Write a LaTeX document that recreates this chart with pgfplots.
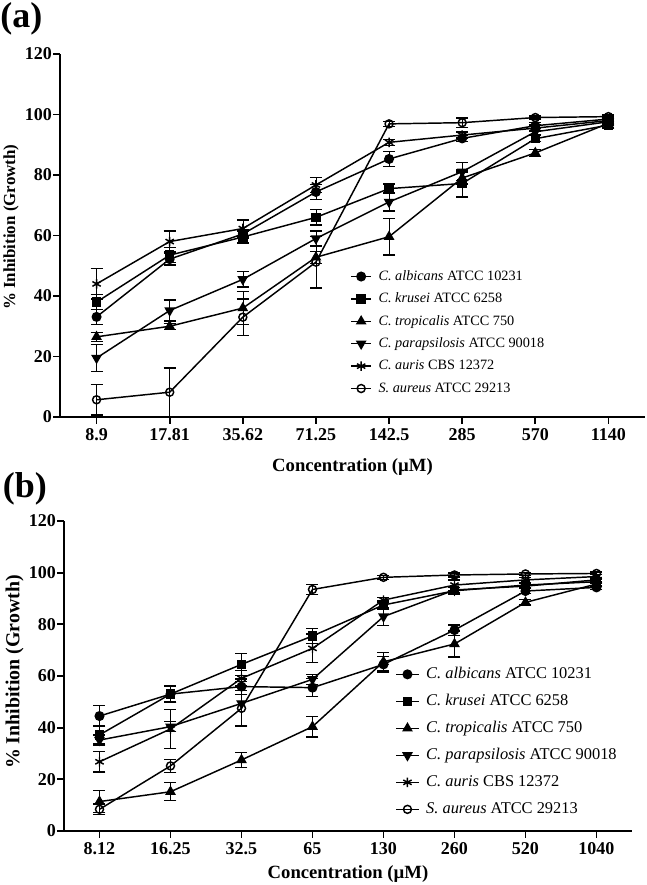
\documentclass[border=0pt]{standalone}
\usepackage{pgfplots}
\pgfplotsset{compat=1.18}
\usepackage{pgfplotstable}
\usepackage{fontspec}
\setmainfont{Liberation Serif}

% x = category index; columns: mean and error for each strain
\pgfplotstableread{
x  a     ea   b     eb   c     ec   d     ed   e     ee   f     ef
0  33.1  2.5  38.0  2.5  26.5  1.5  19.5  4.5  44.0  5.0  5.7   5.0
1  52.2  2.0  53.5  2.5  30.0  1.0  35.2  3.5  58.0  3.5  8.2   8.0
2  60.5  1.5  59.5  2.0  36.0  5.5  45.5  2.5  62.3  2.8  33.0  6.0
3  74.4  2.5  66.0  2.5  52.8  2.0  59.0  2.5  76.7  2.5  51.2  8.5
4  85.3  2.5  75.5  1.5  59.6  6.0  71.1  3.0  90.8  1.0  96.9  0.8
5  92.1  1.0  77.2  4.5  79.0  2.0  81.1  3.0  93.2  1.0  97.3  1.5
6  96.3  1.0  92.0  1.0  87.3  1.2  94.3  1.0  95.5  1.0  99.0  0.5
7  98.5  0.8  96.5  1.0  97.1  0.8  97.6  0.8  98.0  0.8  99.3  0.5
}\tabA

\pgfplotstableread{
x  a     ea   b     eb   c     ec   d     ed   e     ee   f     ef
0  44.5  4.0  37.2  3.5  11.4  4.3  35.2  2.0  26.8  4.0  8.4   2.0
1  53.0  3.0  53.0  3.2  15.2  3.5  40.4  2.0  39.5  7.5  25.2  2.5
2  55.9  3.0  64.5  4.2  27.5  3.0  49.4  8.5  59.1  3.0  47.5  7.0
3  55.5  3.5  75.5  3.0  40.4  4.0  58.7  2.0  70.7  5.5  93.5  2.0
4  64.5  3.0  87.5  1.5  65.5  3.5  83.0  3.5  89.4  1.0  98.2  0.8
5  77.8  2.0  93.0  1.2  72.4  5.0  93.3  1.0  95.2  2.0  99.1  0.8
6  92.9  1.0  95.2  1.0  88.5  1.0  94.8  1.0  97.2  1.0  99.5  0.5
7  94.3  0.8  96.5  0.8  95.6  0.8  97.2  0.8  98.5  0.8  99.7  0.5
}\tabB

\pgfplotsset{
  panel/.style={
    scale only axis, clip=false,
    axis x line=bottom, axis y line=left,
    axis line style={-, line width=1.6pt},
    xmin=-0.5, xmax=7.5, ymin=0, ymax=120,
    xtick={0,...,7}, ytick={0,20,...,120},
    tick align=outside, major tick length=5pt,
    tick style={line width=1.4pt, black},
    ticklabel style={font=\bfseries\fontsize{13.5}{15}\selectfont},
    yticklabel style={xshift=2.5pt},
    /pgf/number format/assume math mode=true,
    xlabel style={font=\bfseries\fontsize{14}{16}\selectfont},
    xlabel={Concentration (µM)},
    ylabel={\% Inhibition (Growth)},
    legend cell align=left,
    every axis plot/.append style={line width=1.1pt, black,
      error bars/y dir=both, error bars/y explicit,
      error bars/error mark options={rotate=90, mark size=4.5pt, line width=1pt, black}},
  },
  sA/.style={mark=*, mark size=3.2pt},
  sB/.style={mark=square*, mark size=3pt},
  sC/.style={mark=triangle*, mark size=3.6pt},
  sD/.style={mark=triangle*, mark size=3.6pt, mark options={rotate=180}},
  sE/.style={mark=asterisk, mark size=3.6pt},
  sF/.style={mark=o, mark size=3pt, mark options={fill=white}},
}

\begin{document}
\begin{tikzpicture}
\useasboundingbox (0,0) rectangle (484.5pt,-663.75pt);
\node[anchor=north west, inner sep=0pt, font=\bfseries\fontsize{27}{30}\selectfont] at (0pt,-2pt) {(a)};
\node[anchor=north west, inner sep=0pt, font=\bfseries\fontsize{27}{30}\selectfont] at (2pt,-354pt) {(b)};

\begin{axis}[panel,
  at={(45pt,-312.75pt)}, anchor=south west,
  width=438.75pt, height=272.25pt,
  xticklabels={8.9,17.81,35.62,71.25,142.5,285,570,1140},
  xlabel style={yshift=-6.5pt},
  ylabel style={at={(axis description cs:-0.0838,0.523)}, anchor=center,
    font=\bfseries\fontsize{12.7}{14}\selectfont},
  legend style={draw=none, fill=none, at={(0.496,0.407)}, anchor=north west,
    font=\fontsize{10.7}{12}\selectfont, inner sep=0pt,
    nodes={inner sep=0pt, text height=8pt, text depth=2.5pt},
    row sep=6.3pt, column sep=5pt},
  legend image code/.code={\draw[mark repeat=2, mark phase=2, #1] plot coordinates {(0pt,0pt) (7.5pt,0pt) (15pt,0pt)};},
]
\addplot[sA] table[x=x, y=a, y error=ea] {\tabA};
\addplot[sB] table[x=x, y=b, y error=eb] {\tabA};
\addplot[sC] table[x=x, y=c, y error=ec] {\tabA};
\addplot[sD] table[x=x, y=d, y error=ed] {\tabA};
\addplot[sE] table[x=x, y=e, y error=ee] {\tabA};
\addplot[sF] table[x=x, y=f, y error=ef] {\tabA};
\legend{\textit{C. albicans} ATCC 10231, \textit{C. krusei} ATCC 6258, \textit{C. tropicalis} ATCC 750, \textit{C. parapsilosis} ATCC 90018, \textit{C. auris} CBS 12372, \textit{S. aureus} ATCC 29213}
\end{axis}

\begin{axis}[panel,
  at={(48pt,-623.25pt)}, anchor=south west,
  width=426pt, height=232.5pt,
  xticklabels={8.12,16.25,32.5,65,130,260,520,1040},
  xlabel style={yshift=-1pt},
  ylabel style={at={(axis description cs:-0.0871,0.513)}, anchor=center,
    font=\bfseries\fontsize{14.9}{16}\selectfont},
  legend style={draw=none, fill=none, at={(0.583,0.532)}, anchor=north west,
    font=\fontsize{12.3}{14}\selectfont, inner sep=0pt,
    nodes={inner sep=0pt, text height=9pt, text depth=3pt},
    row sep=8.25pt, column sep=5pt},
  legend image code/.code={\draw[mark repeat=2, mark phase=2, #1] plot coordinates {(0pt,0pt) (8.5pt,0pt) (17pt,0pt)};},
]
\addplot[sA] table[x=x, y=a, y error=ea] {\tabB};
\addplot[sB] table[x=x, y=b, y error=eb] {\tabB};
\addplot[sC] table[x=x, y=c, y error=ec] {\tabB};
\addplot[sD] table[x=x, y=d, y error=ed] {\tabB};
\addplot[sE] table[x=x, y=e, y error=ee] {\tabB};
\addplot[sF] table[x=x, y=f, y error=ef] {\tabB};
\legend{\textit{C. albicans} ATCC 10231, \textit{C. krusei} ATCC 6258, \textit{C. tropicalis} ATCC 750, \textit{C. parapsilosis} ATCC 90018, \textit{C. auris} CBS 12372, \textit{S. aureus} ATCC 29213}
\end{axis}
\end{tikzpicture}
\end{document}
